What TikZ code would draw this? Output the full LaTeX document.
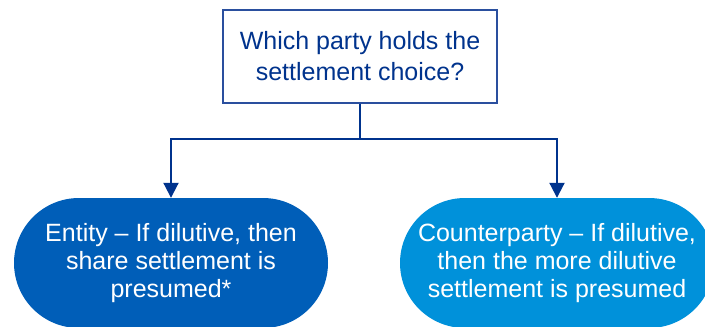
\documentclass[tikz,border=0pt]{standalone}
\usepackage{fontspec}
\setmainfont{Liberation Sans}
\usetikzlibrary{arrows.meta}
\definecolor{navy}{HTML}{00338D}
\definecolor{boxline}{HTML}{2A4F9E}
\definecolor{entityblue}{HTML}{005EB8}
\definecolor{cpblue}{HTML}{0091DA}
\begin{document}
\begin{tikzpicture}[x=1pt,y=-1pt,
  qbox/.style={draw=boxline,line width=1.2pt,fill=white,minimum width=274pt,minimum height=93pt,inner sep=0pt,align=center,text=navy,font=\fontsize{25}{31}\selectfont},
  pill/.style={rounded corners=65pt,minimum width=314pt,minimum height=130pt,inner sep=0pt,align=center,text=white,font=\fontsize{25}{28}\selectfont},
  conn/.style={draw=navy,line width=2pt},
  arr/.style={conn,-{Triangle[width=15pt,length=15pt]}}]
\useasboundingbox (0,0) rectangle (705,327);
\node[qbox] (q) at (360,56.5) {Which party holds the\\settlement choice?};
\node[pill,fill=entityblue] (e) at (171,263) {Entity -- If dilutive, then\\share settlement is\\presumed*};
\node[pill,fill=cpblue] (c) at (557,263) {Counterparty -- If dilutive,\\then the more dilutive\\settlement is presumed};
\coordinate (j) at (360,139);
\draw[conn] (q.south) -- (j);
\draw[arr] (j) -| (e.north);
\draw[arr] (j) -| (c.north);
\end{tikzpicture}
\end{document}
